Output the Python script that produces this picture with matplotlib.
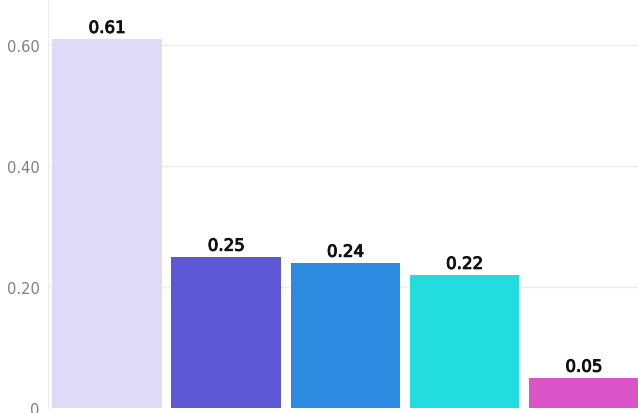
import matplotlib.pyplot as plt
import matplotlib.patheffects as pe

categories = ['A', 'B', 'C', 'D', 'E']
values = [0.61, 0.25, 0.24, 0.22, 0.05]
colors = ['#dedaf7', '#5e57d5', '#2c8be0', '#23dcdd', '#dc55c8']
yticks = [0, 0.2, 0.4, 0.6]
ytick_labels = ['0', '0.20', '0.40', '0.60']

fig = plt.figure(figsize=(6.38, 4.14), dpi=100)
ax = fig.add_axes([48 / 638, 5 / 414, 590 / 638, 409 / 414])

x = range(len(categories))
bars = ax.bar(x, values, width=0.92, color=colors, zorder=2)

# value labels above each bar, slightly thickened
for rect, v in zip(bars, values):
    ax.text(rect.get_x() + rect.get_width() / 2, v + 0.01, f'{v:.2f}',
            ha='center', va='baseline', fontsize=12, family='DejaVu Sans',
            color='#111111',
            path_effects=[pe.withStroke(linewidth=0.7, foreground='#111111')])

ax.set_xlim(-0.495, 4.455)
ax.set_ylim(0, 0.676)
ax.set_xticks([])
ax.set_yticks(yticks)
ax.set_yticklabels(ytick_labels, family='DejaVu Sans', fontsize=10.5,
                   color='#808080', va='center_baseline')
ax.tick_params(axis='y', length=0, pad=6)
ax.grid(axis='y', color='#ececec', linewidth=1, zorder=0)

for side in ['top', 'right', 'bottom']:
    ax.spines[side].set_visible(False)
ax.spines['left'].set_color('#ececec')

fig.savefig('out.png', dpi=100)
